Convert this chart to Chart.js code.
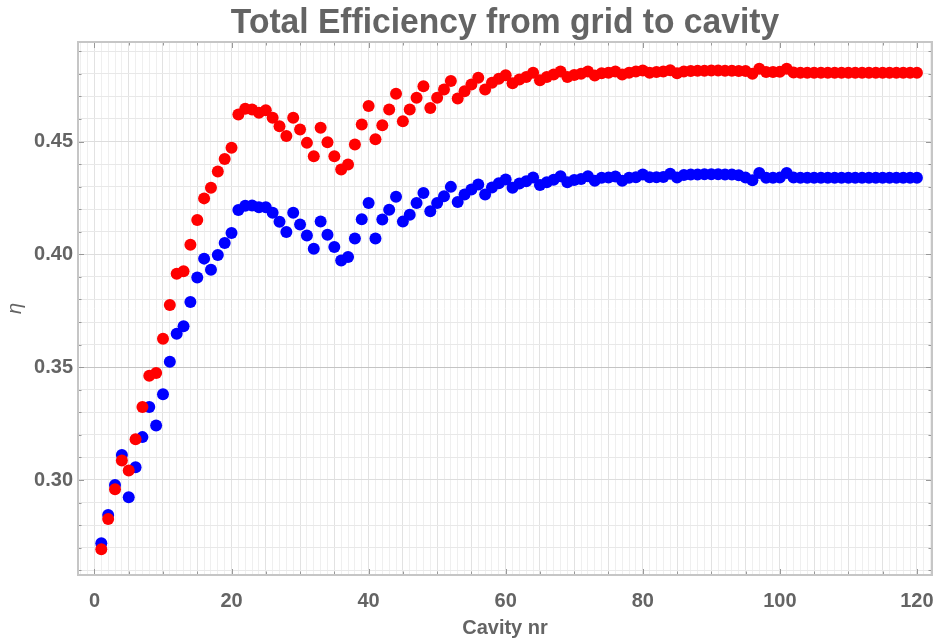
<!DOCTYPE html>
<html>
<head>
<meta charset="utf-8">
<title>Total Efficiency from grid to cavity</title>
<script src="https://cdn.jsdelivr.net/npm/chart.js@4.4.1/dist/chart.umd.min.js"></script>
<style>
  html, body { margin: 0; padding: 0; background: #fff; }
  #wrap { width: 934px; height: 639px; }
</style>
</head>
<body>
<div id="wrap"><canvas id="chart" width="934" height="639"></canvas></div>
<script>
// Data
const cavityNr = Array.from({length: 120}, (_, i) => i + 1);

const etaRed = [
  0.2693, 0.2827, 0.2959, 0.3086, 0.3042, 0.3181, 0.3323, 0.3462, 0.3474, 0.3626,
  0.3775, 0.3914, 0.3925, 0.4042, 0.4152, 0.4248, 0.4295, 0.4367, 0.4422, 0.4472,
  0.4620, 0.4645, 0.4642, 0.4627, 0.4639, 0.4605, 0.4568, 0.4524, 0.4605, 0.4553,
  0.4494, 0.4435, 0.4561, 0.4497, 0.4435, 0.4376, 0.4398, 0.4487, 0.4575, 0.4657,
  0.4510, 0.4572, 0.4642, 0.4712, 0.4590, 0.4642, 0.4694, 0.4745, 0.4649, 0.4694,
  0.4731, 0.4768, 0.4691, 0.4723, 0.4753, 0.4783, 0.4731, 0.4760, 0.4778, 0.4794,
  0.4758, 0.4775, 0.4786, 0.4805, 0.4772, 0.4786, 0.4797, 0.4810, 0.4786, 0.4795,
  0.4800, 0.4810, 0.4792, 0.4803, 0.4805, 0.4810, 0.4797, 0.4805, 0.4810, 0.4815,
  0.4805, 0.4808, 0.4810, 0.4816, 0.4802, 0.4810, 0.4812, 0.4814, 0.4814, 0.4815,
  0.4815, 0.4814, 0.4814, 0.4813, 0.4812, 0.4800, 0.4822, 0.4808, 0.4808, 0.4809,
  0.4822, 0.4806, 0.4805, 0.4805, 0.4805, 0.4805, 0.4805, 0.4805, 0.4805, 0.4805,
  0.4805, 0.4805, 0.4805, 0.4805, 0.4805, 0.4805, 0.4805, 0.4805, 0.4805, 0.4805
];

const etaBlue = [
  0.2720, 0.2845, 0.2978, 0.3111, 0.2924, 0.3057, 0.3190, 0.3323, 0.3241, 0.3380,
  0.3524, 0.3648, 0.3681, 0.3789, 0.3897, 0.3981, 0.3932, 0.3997, 0.4050, 0.4095,
  0.4197, 0.4215, 0.4216, 0.4209, 0.4209, 0.4184, 0.4144, 0.4099, 0.4184, 0.4132,
  0.4084, 0.4025, 0.4146, 0.4087, 0.4033, 0.3973, 0.3988, 0.4070, 0.4156, 0.4228,
  0.4070, 0.4154, 0.4198, 0.4255, 0.4145, 0.4175, 0.4228, 0.4272, 0.4191, 0.4228,
  0.4257, 0.4299, 0.4232, 0.4265, 0.4287, 0.4309, 0.4265, 0.4296, 0.4315, 0.4332,
  0.4295, 0.4314, 0.4324, 0.4341, 0.4307, 0.4320, 0.4331, 0.4346, 0.4320, 0.4329,
  0.4334, 0.4346, 0.4326, 0.4339, 0.4340, 0.4345, 0.4326, 0.4339, 0.4342, 0.4354,
  0.4342, 0.4342, 0.4343, 0.4357, 0.4340, 0.4352, 0.4354, 0.4354, 0.4355, 0.4355,
  0.4355, 0.4354, 0.4354, 0.4350, 0.4340, 0.4328, 0.4360, 0.4339, 0.4339, 0.4340,
  0.4360, 0.4340, 0.4339, 0.4339, 0.4339, 0.4339, 0.4339, 0.4339, 0.4339, 0.4339,
  0.4339, 0.4339, 0.4339, 0.4339, 0.4339, 0.4339, 0.4339, 0.4339, 0.4339, 0.4339
];

// axis ticks / grid
const xLabelValues = [0, 20, 40, 60, 80, 100, 120];
const xTickMarks = [0, 5, 10, 15, 20, 25, 30, 35, 40, 45, 50, 55, 60, 65, 70, 75, 80, 85, 90, 95, 100, 105, 110, 115, 120];
const xGridValues = [-2, -1, 0, 1, 2, 3, 4, 5, 6, 7, 8, 9, 10, 11, 12, 13, 14, 15, 16, 17, 18, 19, 20,
  21, 22, 23, 24, 25, 26, 27, 28, 29, 30, 31, 32, 33, 34, 35, 36, 37, 38, 39, 40,
  41, 42, 43, 44, 45, 46, 47, 48, 49, 50, 51, 52, 53, 54, 55, 56, 57, 58, 59, 60,
  61, 62, 63, 64, 65, 66, 67, 68, 69, 70, 71, 72, 73, 74, 75, 76, 77, 78, 79, 80,
  81, 82, 83, 84, 85, 86, 87, 88, 89, 90, 91, 92, 93, 94, 95, 96, 97, 98, 99, 100,
  101, 102, 103, 104, 105, 106, 107, 108, 109, 110, 111, 112, 113, 114, 115, 116, 117, 118, 119, 120, 121, 122];
const yLabelValues = [0.30, 0.35, 0.40, 0.45];
const yGridValues = [0.26, 0.27, 0.28, 0.29, 0.30, 0.31, 0.32, 0.33, 0.34, 0.35, 0.36, 0.37,
  0.38, 0.39, 0.40, 0.41, 0.42, 0.43, 0.44, 0.45, 0.46, 0.47, 0.48, 0.49];

const FONT = '"Liberation Sans", Arial, sans-serif';
const TEXT_GRAY = '#646464';

const isLabelY = v => yLabelValues.some(l => Math.abs(l - v) < 1e-6);

// frame, inward tick marks and title centred on the plot area (Mathematica style)
const framePlugin = {
  id: 'frame',
  afterDraw(chart) {
    const {ctx, chartArea: a, scales: {x, y}} = chart;
    ctx.save();
    ctx.strokeStyle = '#999';
    ctx.lineWidth = 1;
    ctx.beginPath();
    xTickMarks.forEach(v => {
      const px = Math.round(x.getPixelForValue(v)) + 0.5;
      const len = v % 20 === 0 ? 6 : 3.5;
      ctx.moveTo(px, a.bottom); ctx.lineTo(px, a.bottom - len);
      ctx.moveTo(px, a.top); ctx.lineTo(px, a.top + len);
    });
    yGridValues.forEach(v => {
      const py = Math.round(y.getPixelForValue(v)) + 0.5;
      const len = isLabelY(v) ? 6 : 3.5;
      ctx.moveTo(a.left, py); ctx.lineTo(a.left + len, py);
      ctx.moveTo(a.right, py); ctx.lineTo(a.right - len, py);
    });
    ctx.stroke();
    ctx.strokeStyle = '#c6c6c6';
    ctx.lineWidth = 2;
    ctx.strokeRect(a.left, a.top, a.right - a.left, a.bottom - a.top);

    // title, slightly condensed like the original
    ctx.fillStyle = TEXT_GRAY;
    ctx.font = 'bold 35px ' + FONT;
    ctx.textAlign = 'center';
    ctx.textBaseline = 'middle';
    ctx.translate((a.left + a.right) / 2, 23);
    ctx.scale(0.96, 1);
    ctx.fillText('Total Efficiency from grid to cavity', 0, 0);
    ctx.restore();
  }
};

const ctx = document.getElementById('chart').getContext('2d');
new Chart(ctx, {
  type: 'scatter',
  data: {
    datasets: [
      {
        label: 'red',
        data: cavityNr.map((n, i) => ({x: n, y: etaRed[i]})),
        backgroundColor: '#ff0000',
        borderWidth: 0,
        pointRadius: 6
      },
      {
        label: 'blue',
        data: cavityNr.map((n, i) => ({x: n, y: etaBlue[i]})),
        backgroundColor: '#0000ff',
        borderWidth: 0,
        pointRadius: 6
      }
    ]
  },
  options: {
    responsive: false,
    animation: false,
    layout: { autoPadding: false, padding: { top: 42, right: 2, left: 0, bottom: 0 } },
    plugins: {
      legend: { display: false },
      tooltip: { enabled: false },
      title: { display: false }
    },
    scales: {
      x: {
        type: 'linear',
        min: -2.4,
        max: 122.2,
        afterFit: s => {
          s.height = 64;
          s.paddingLeft = 0;
          s.paddingRight = 0;
        },
        afterBuildTicks: s => { s.ticks = xGridValues.map(v => ({value: v})); },
        border: { display: false },
        grid: {
          drawTicks: false,
          color: c => (c.tick && c.tick.value % 5 === 0) ? '#e2e2e2' : '#efefef'
        },
        ticks: {
          autoSkip: false,
          maxRotation: 0,
          padding: 14,
          color: TEXT_GRAY,
          font: { family: FONT, size: 20, weight: 'bold' },
          callback: v => xLabelValues.includes(v) ? String(v) : ''
        },
        title: {
          display: true,
          text: 'Cavity nr',
          color: TEXT_GRAY,
          font: { family: FONT, size: 20, weight: 'bold', lineHeight: 1 },
          padding: { top: 0, bottom: 1 }
        }
      },
      y: {
        min: 0.2579,
        max: 0.4941,
        afterFit: s => {
          s.width = 78;
          s.paddingTop = 0;
          s.paddingBottom = 0;
        },
        afterBuildTicks: s => { s.ticks = yGridValues.map(v => ({value: v})); },
        border: { display: false },
        grid: {
          drawTicks: false,
          color: c => {
            if (!c.tick) return '#e8e8e8';
            const v = c.tick.value;
            if (Math.abs(v - 0.35) < 1e-6) return '#c4c4c4';
            return isLabelY(v) ? '#dddddd' : '#e8e8e8';
          }
        },
        ticks: {
          autoSkip: false,
          padding: 5,
          color: TEXT_GRAY,
          font: { family: FONT, size: 20, weight: 'bold' },
          callback: v => isLabelY(v) ? v.toFixed(2) : ''
        },
        title: {
          display: true,
          text: 'η',
          color: TEXT_GRAY,
          font: { family: FONT, size: 20, style: 'italic', lineHeight: 1 },
          padding: { top: 5, bottom: 0 }
        }
      }
    }
  },
  plugins: [framePlugin]
});
</script>
</body>
</html>
